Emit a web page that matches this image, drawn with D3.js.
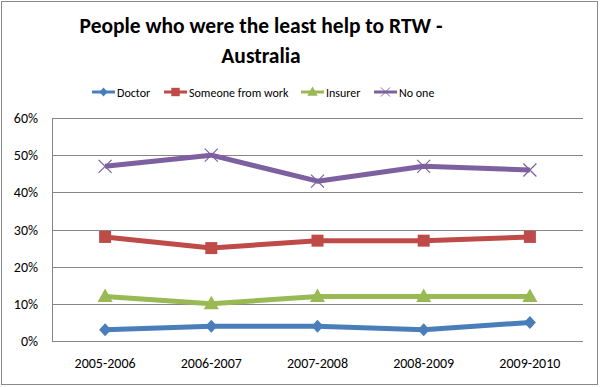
<!DOCTYPE html>
<html>
<head>
<meta charset="utf-8">
<script src="https://cdn.jsdelivr.net/npm/d3@7"></script>
<style>
  body { margin: 0; background: #fff; }
  svg text { font-family: Carlito, Calibri, "Open Sans", sans-serif; }
</style>
</head>
<body>
<svg id="chart" width="600" height="387"></svg>
<script>
// chart values
var years = ["2005-2006", "2006-2007", "2007-2008", "2008-2009", "2009-2010"];
var seriesNames = ["Doctor", "Someone from work", "Insurer", "No one"];
var doctor = [3, 4, 4, 3, 5];
var someoneFromWork = [28, 25, 27, 27, 28];
var insurer = [12, 10, 12, 12, 12];
var noOne = [47, 50, 43, 47, 46];
var yTicks = [0, 10, 20, 30, 40, 50, 60];

var colors = ["#4a7ebb", "#be4b48", "#98b954", "#7d60a0"];
var markers = ["diamond", "square", "triangle", "cross"];
var allValues = [doctor, someoneFromWork, insurer, noOne];

var margin = { top: 118, left: 52, right: 17, bottom: 46 };
var width = 600, height = 387;

var svg = d3.select('#chart');

// outer frame
svg.append('rect')
    .attr('x', 1.5).attr('y', 1.5)
    .attr('width', 596).attr('height', 383)
    .attr('fill', '#fff')
    .attr('stroke', '#898989')
    .attr('stroke-width', 1);

var x = d3.scaleBand()
    .domain(years)
    .range([margin.left, width - margin.right]);

var y = d3.scaleLinear()
    .domain([0, 60])
    .range([341, margin.top]);

// gridlines
svg.append('g')
    .selectAll('line')
    .data(yTicks)
    .enter()
    .append('line')
    .attr('x1', margin.left)
    .attr('x2', width - margin.right)
    .attr('y1', d => Math.round(y(d)) + 0.5)
    .attr('y2', d => Math.round(y(d)) + 0.5)
    .attr('stroke', '#868686')
    .attr('stroke-width', 1);

// left axis line
svg.append('line')
    .attr('x1', margin.left + 0.5).attr('x2', margin.left + 0.5)
    .attr('y1', y(60)).attr('y2', y(0))
    .attr('stroke', '#868686');

// y tick labels
svg.append('g')
    .selectAll('text')
    .data(yTicks)
    .enter()
    .append('text')
    .attr('x', 38)
    .attr('y', d => y(d) + 5)
    .attr('text-anchor', 'end')
    .attr('font-size', 14)
    .attr('fill', '#000')
    .text(d => d + '%');

// x tick labels
svg.append('g')
    .selectAll('text')
    .data(years)
    .enter()
    .append('text')
    .attr('x', d => x(d) + x.bandwidth() / 2)
    .attr('y', 368)
    .attr('text-anchor', 'middle')
    .attr('font-size', 14)
    .attr('fill', '#000')
    .text(d => d);

// marker shapes
function markerPath(type) {
    if (type == 'diamond') return 'M0,-6.5L6,0L0,6.5L-6,0Z';
    if (type == 'square') return 'M-6,-6H6V6H-6Z';
    if (type == 'triangle') return 'M0,-8L7.5,5.5L-7.5,5.5Z';
    return 'M-6.5,-6.5L6.5,6.5M-6.5,6.5L6.5,-6.5';
}

function drawMarker(g, type, color, cx, cy) {
    var p = g.append('path')
        .attr('transform', 'translate(' + cx + ',' + cy + ')')
        .attr('d', markerPath(type));
    if (type == 'cross') {
        p.attr('fill', 'none').attr('stroke', color).attr('stroke-width', 1.2);
    } else {
        p.attr('fill', color);
    }
}

var line = d3.line()
    .x((d, i) => x(years[i]) + x.bandwidth() / 2)
    .y(d => y(d));

// series lines and markers
allValues.forEach(function(vals, s) {
    var g = svg.append('g');
    g.append('path')
        .attr('d', line(vals))
        .attr('fill', 'none')
        .attr('stroke', colors[s])
        .attr('stroke-width', 5)
        .attr('stroke-linejoin', 'round');
    vals.forEach(function(v, i) {
        drawMarker(g, markers[s], colors[s], x(years[i]) + x.bandwidth() / 2, y(v));
    });
});

// title
var title = svg.append('text')
    .attr('text-anchor', 'middle')
    .attr('font-size', 21.5)
    .attr('font-weight', 'bold')
    .attr('fill', '#000');
title.append('tspan').attr('x', 261).attr('y', 33).text('People who were the least help to RTW -');
title.append('tspan').attr('x', 261).attr('y', 63).text('Australia');

// legend
var legendX = [92, 164, 301, 374];
var legend = svg.append('g')
    .selectAll('g')
    .data(seriesNames)
    .enter()
    .append('g')
    .attr('transform', (d, i) => 'translate(' + legendX[i] + ',92)');

legend.append('line')
    .attr('x1', 0).attr('x2', 23)
    .attr('stroke', (d, i) => colors[i])
    .attr('stroke-width', 3);

legend.each(function(d, i) {
    var g = d3.select(this);
    var p = g.append('path')
        .attr('transform', 'translate(11.5,0) scale(0.7)')
        .attr('d', markerPath(markers[i]));
    if (markers[i] == 'cross') p.attr('fill', 'none').attr('stroke', colors[i]).attr('stroke-width', 1.3);
    else p.attr('fill', colors[i]);
});

legend.append('text')
    .attr('x', 25)
    .attr('y', 4.5)
    .attr('font-size', 12)
    .attr('fill', '#000')
    .text(d => d);
</script>
</body>
</html>
